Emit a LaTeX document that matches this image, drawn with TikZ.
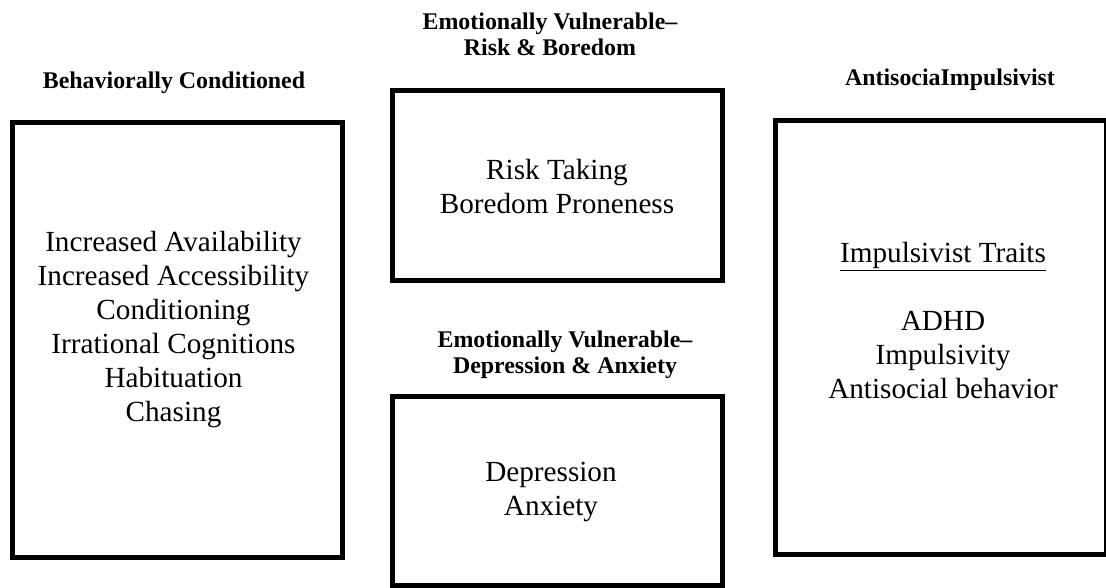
\documentclass[tikz,border=0pt]{standalone}
\usepackage{fontspec}
\setmainfont{Liberation Serif}
\begin{document}
\begin{tikzpicture}[x=1pt,y=-1pt,
  box/.style={draw,line width=5pt,minimum width=330.5pt,inner sep=0pt},
  heading/.style={font=\fontsize{23.9}{26}\selectfont\bfseries,align=center,inner sep=0pt},
  item/.style={font=\fontsize{29.2}{34}\selectfont,align=center,inner sep=0pt}]
\useasboundingbox (0,0) rectangle (1106,587);
\node[box,minimum height=434.5pt] at (177.25,339.75) (bc) {};
\node[box,minimum height=190.5pt] at (557.25,185.25) (rb) {};
\node[box,minimum height=188.5pt] at (557.25,490.75) (da) {};
\node[box,minimum height=434pt] at (940.75,337.5) (ai) {};
\node[heading] at (174,83) (bchead) {Behaviorally Conditioned};
\node[heading] at (550,34.3) (rbhead) {Emotionally Vulnerable--\\Risk \& Boredom};
\node[heading] at (565,354.5) (dahead) {Emotionally Vulnerable--\\Depression \& Anxiety};
\node[heading] at (950,80) (aihead) {AntisociaImpulsivist};
\node[item] at (173.5,330) (bctext) {Increased Availability\\Increased Accessibility\\Conditioning\\Irrational Cognitions\\Habituation\\Chasing};
\node[item] at (557,187) (rbtext) {Risk Taking\\Boredom Proneness};
\node[item] at (551,492) (datext) {Depression\\Anxiety};
\node[item] at (943,321) (aitext) {\underline{Impulsivist Traits}\\[34pt]ADHD\\Impulsivity\\Antisocial behavior};
\end{tikzpicture}
\end{document}
